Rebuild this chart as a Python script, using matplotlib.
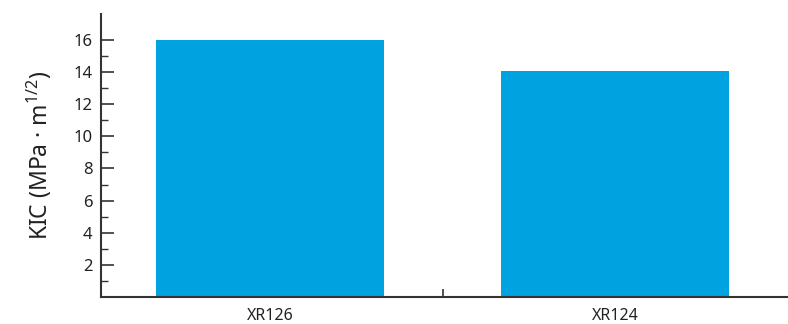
import matplotlib
matplotlib.use("Agg")
from matplotlib import pyplot as plt
from matplotlib.ticker import FixedLocator

plt.rcParams['font.family'] = ['Noto Sans', 'DejaVu Sans']
plt.rcParams['mathtext.fontset'] = 'custom'
plt.rcParams['mathtext.rm'] = 'Noto Sans'
plt.rcParams['mathtext.it'] = 'Noto Sans:italic'

# data
samples = ['XR126', 'XR124']
kic = [16.0, 14.05]
bar_color = '#00A3E0'

fig = plt.figure(figsize=(7.88, 3.24), dpi=100)
ax = fig.add_axes([0.128, 0.0833, 0.872, 0.873])

ax.bar(range(len(samples)), kic, width=0.66, color=bar_color)

ax.set_xlim(-0.49, 1.5)
ax.set_ylim(0, 17.6)

# y ticks
ax.set_yticks([2, 4, 6, 8, 10, 12, 14, 16])
ax.yaxis.set_minor_locator(FixedLocator([1, 3, 5, 7, 9, 11, 13, 15]))
ax.tick_params(axis='y', which='major', direction='in', length=9, width=1.2,
               colors='#333333', labelsize=12, labelcolor='#222222', pad=6)
ax.tick_params(axis='y', which='minor', direction='in', length=5, width=1.0,
               colors='#333333')

# x ticks: labels at categories, single tick between them
ax.set_xticks(range(len(samples)))
ax.set_xticklabels(samples)
ax.set_xticks([0.5], minor=True)
ax.tick_params(axis='x', which='major', length=0, labelsize=11.5,
               labelcolor='#222222', pad=8)
ax.tick_params(axis='x', which='minor', direction='in', length=6, width=1.2,
               colors='#333333')

for side in ['top', 'right']:
    ax.spines[side].set_visible(False)
for side in ['left', 'bottom']:
    ax.spines[side].set_color('#333333')
    ax.spines[side].set_linewidth(1.5)

ax.set_ylabel('KIC (MPa · m$^{1/2}$)', fontsize=16.5, color='#222222', labelpad=14)

plt.savefig('out.png', dpi=100)
plt.close()
